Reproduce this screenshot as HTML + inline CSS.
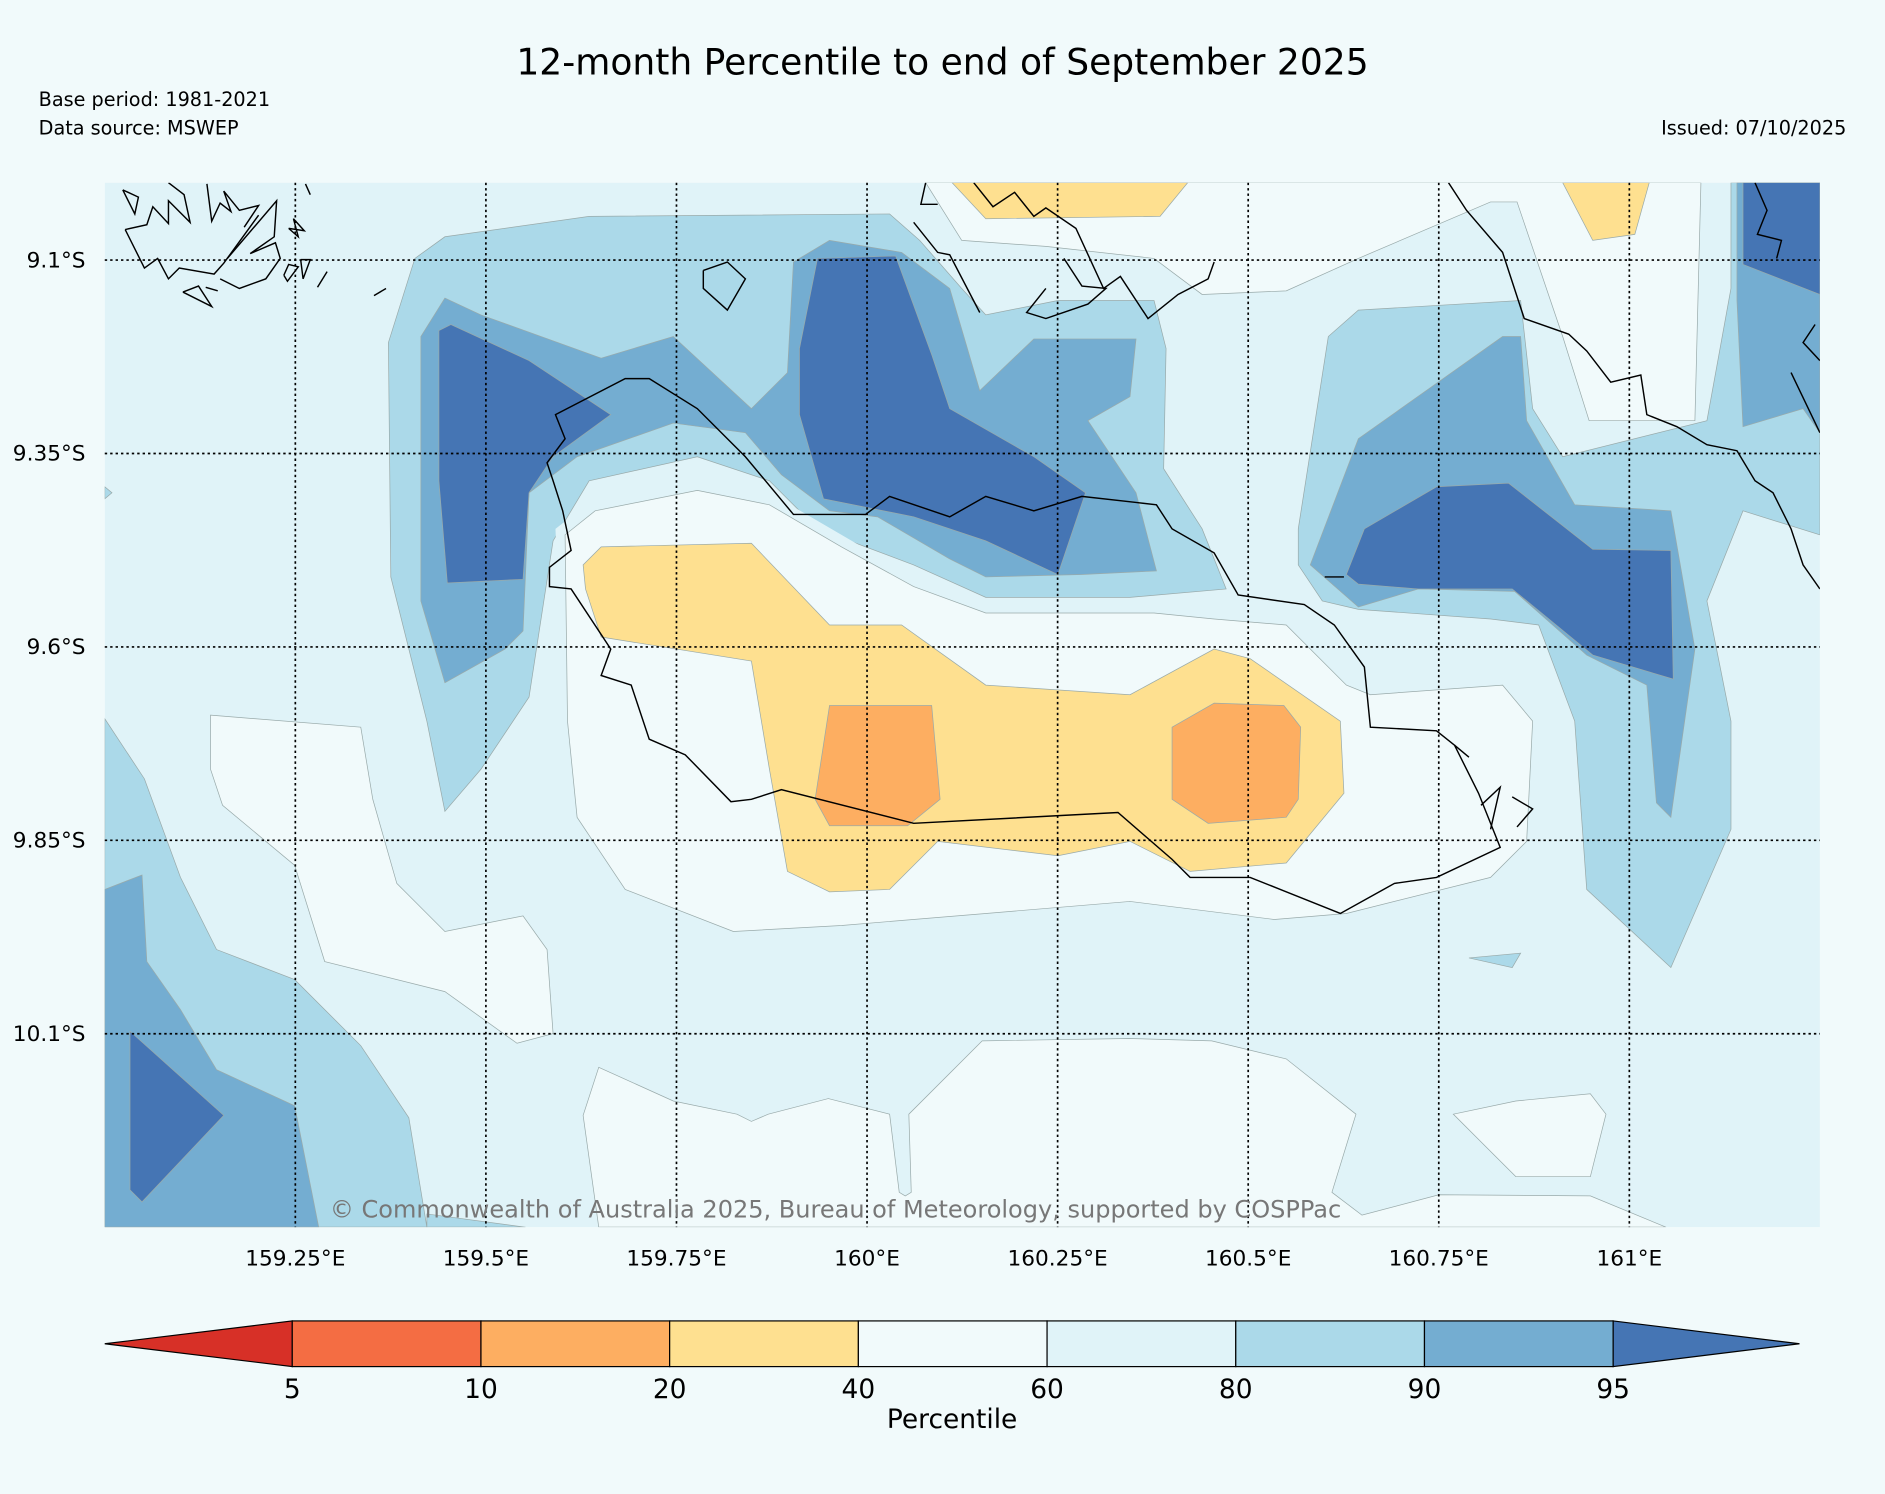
<!DOCTYPE html>
<html><head><meta charset="utf-8">
<style>
html,body{margin:0;padding:0;background:#f1fafb;}
svg{display:block;font-family:"DejaVu Sans","Liberation Sans",sans-serif;}
</style></head>
<body>
<svg id="chart" width="1885" height="1494" viewBox="0 0 1568 1243" xmlns="http://www.w3.org/2000/svg">
<rect x="0" y="0" width="1568" height="1243" fill="#f1fafb"/>
<text x="784" y="62" text-anchor="middle" font-size="30">12-month Percentile to end of September 2025</text>
<text x="32" y="88" font-size="16">Base period: 1981-2021</text>
<text x="32" y="112" font-size="16">Data source: MSWEP</text>
<text x="1536" y="112" text-anchor="end" font-size="16">Issued: 07/10/2025</text>
<defs><clipPath id="pc"><rect x="87" y="152" width="1427" height="869"/></clipPath></defs>
<g id="plot" clip-path="url(#pc)"></g>
<g id="axes"></g>
<g id="cbar"></g>
</svg>
<script>
// Axis definition: lon 159.0..161.25, lat 9.0S..10.35S
const lonTicks = [159.25,159.5,159.75,160,160.25,160.5,160.75,161];
const lonLabels = ["159.25°E","159.5°E","159.75°E","160°E","160.25°E","160.5°E","160.75°E","161°E"];
const latTicks = [9.1,9.35,9.6,9.85,10.1];
const latLabels = ["9.1°S","9.35°S","9.6°S","9.85°S","10.1°S"];
const cbarBounds = [5,10,20,40,60,80,90,95];
const cbarColors = ["#d73027","#f46d43","#fdae61","#fee090","#f1fafb","#e0f3f8","#abd9e9","#74add1","#4575b4"];
// contour polygons in projected plot units
const levelBg = "#e0f3f8";
const contours = [
 ["c80","#abd9e9",[[87,598],[120,648],[150,730],[180,790],[245,815],[300,870],[340,930],[355,1021],[87,1021]]],
 ["c80","#abd9e9",[[355,1010],[437,1021],[355,1021]]],
 ["c90","#74add1",[[87,740],[118,728],[122,800],[150,840],[180,890],[245,920],[265,1021],[87,1021]]],
 ["c95","#4575b4",[[108,858],[186,928],[118,1000],[108,990]]],
 ["c40","#f1fafb",[[175,595],[300,605],[310,665],[330,735],[370,775],[435,762],[455,790],[460,860],[430,868],[370,825],[270,800],[245,720],[185,670],[175,640]]],
 ["c40","#f1fafb",[[498,888],[560,916],[613,927],[625,933],[639,927],[689,914],[740,927],[748,992],[753,995],[758,992],[756,927],[817,866],[939,864],[1008,866],[1070,881],[1128,927],[1108,992],[1133,1011],[1197,994],[1323,995],[1386,1021],[498,1021],[485,928]]],
 ["c40","#f1fafb",[[1209,927],[1261,916],[1323,910],[1336,927],[1323,979],[1261,979]]],
 ["c40","#f1fafb",[[770,152],[1415,152],[1410,350],[1322,350],[1300,280],[1262,168],[1240,168],[1130,215],[1070,242],[1000,245],[960,215],[870,205],[800,200]]],
 ["c20","#fee090",[[792,152],[988,152],[965,180],[820,182]]],
 ["c20","#fee090",[[1300,152],[1372,152],[1360,195],[1325,200]]],
 ["c80","#abd9e9",[[323,285],[345,215],[370,197],[490,180],[740,178],[765,200],[800,240],[820,262],[880,250],[960,250],[970,290],[968,390],[1000,440],[1020,490],[940,497],[820,497],[760,470],[680,440],[640,400],[580,380],[490,400],[460,450],[440,580],[400,640],[370,675],[355,600],[325,480]]],
 ["c80","#abd9e9",[[1080,440],[1105,280],[1130,258],[1265,250],[1275,340],[1300,380],[1420,350],[1440,240],[1440,152],[1514,152],[1514,445],[1450,425],[1420,500],[1440,600],[1440,690],[1390,805],[1320,740],[1310,600],[1280,520],[1240,515],[1130,507],[1100,500],[1080,470]]],
 ["c90","#74add1",[[350,280],[370,248],[400,262],[500,298],[560,280],[625,340],[655,310],[660,218],[690,200],[750,210],[790,240],[815,325],[860,282],[945,282],[940,330],[905,350],[945,410],[962,475],[900,478],[820,480],[790,465],[730,430],[690,425],[650,395],[620,360],[560,352],[480,380],[440,410],[435,525],[420,540],[370,568],[350,500]]],
 ["c90","#74add1",[[1090,470],[1130,365],[1250,280],[1265,280],[1270,350],[1310,420],[1390,425],[1410,540],[1390,680],[1378,668],[1370,570],[1320,545],[1260,492],[1180,490],[1130,505]]],
 ["c90","#74add1",[[1445,152],[1514,152],[1514,360],[1500,340],[1450,355],[1445,250]]],
 ["c95","#4575b4",[[365,275],[375,270],[440,300],[508,345],[460,380],[440,410],[435,482],[372,485],[365,400]]],
 ["c95","#4575b4",[[665,290],[680,215],[745,213],[775,295],[790,340],[860,380],[903,410],[880,478],[820,450],[760,430],[685,415],[665,345]]],
 ["c95","#4575b4",[[1120,478],[1135,440],[1195,405],[1255,402],[1325,457],[1390,458],[1392,565],[1325,545],[1258,490],[1180,490],[1130,486]]],
 ["c95","#4575b4",[[1450,152],[1514,152],[1514,245],[1450,220]]],
 ["c60","#e0f3f8",[[462,440],[490,418],[580,395],[640,410],[700,445],[760,480],[820,500],[960,500],[1020,495],[1080,515],[1120,545],[1150,565],[1260,565],[1285,600],[1270,650],[470,650]]],
 ["c40","#f1fafb",[[470,445],[495,425],[580,408],[640,420],[700,455],[760,488],[820,510],[960,510],[1010,515],[1070,520],[1120,570],[1140,578],[1250,570],[1275,600],[1270,700],[1240,730],[1120,760],[1060,765],[940,750],[820,760],[700,770],[610,775],[520,740],[480,680],[472,600]]],
 ["c20","#fee090",[[485,470],[500,455],[625,452],[690,520],[750,520],[820,570],[940,578],[1010,540],[1040,548],[1115,600],[1118,660],[1070,718],[990,725],[940,700],[880,712],[780,700],[740,740],[690,742],[655,725],[640,640],[625,550],[500,530],[487,490]]],
 ["c10","#fdae61",[[690,587],[775,587],[782,665],[755,687],[690,687],[678,665]]],
 ["c10","#fdae61",[[975,605],[1010,585],[1068,587],[1082,605],[1080,665],[1070,680],[1005,685],[975,665]]],
 ["c80","#abd9e9",[[1222,797],[1265,793],[1258,805]]],
 ["c80","#abd9e9",[[87,405],[93,410],[87,415]]]
];
const coastMain = [[462,345],[520,315],[540,315],[580,340],[620,380],[660,428],[720,428],[740,413],[790,430],[820,413],[860,425],[900,413],[945,418],[962,420],[975,440],[1010,460],[1030,495],[1085,503],[1110,520],[1135,555],[1140,605],[1195,608],[1210,620],[1230,660],[1248,705],[1195,730],[1160,735],[1115,760],[1040,730],[990,730],[975,715],[930,676],[760,685],[650,657],[625,665],[608,667],[570,628],[540,615],[530,585],[525,570],[500,562],[508,540],[475,490],[457,488],[457,472],[475,458],[468,425],[460,400],[455,385],[470,365]];
const coastLines = [
 [[104,191],[122,187],[127,172],[140,186],[140,167],[158,185],[153,162],[140,152]],
 [[172,153],[176,184],[183,169],[192,176],[186,159],[199,175],[215,171],[203,189]],
 [[104,191],[120,223],[131,215],[140,232],[149,223],[178,228],[186,219],[215,179]],
 [[189,215],[230,167],[228,197],[208,211],[229,202],[233,215],[221,232],[199,240],[183,232]],
 [[102,158],[115,164],[112,178],[102,158]],[[152,243],[165,238],[176,255],[152,243]],[[171,239],[181,242]],
 [[240,190],[248,197],[244,182],[253,192],[240,190]],[[236,229],[240,220],[248,222],[239,234],[236,229]],
 [[250,216],[258,216],[252,232],[250,216]],[[264,239],[272,226]],[[311,246],[321,240]],[[254,153],[258,162]],
 [[585,225],[605,218],[620,232],[605,258],[585,240],[585,225]],
 [[770,152],[766,170],[780,170]],
 [[810,152],[826,172],[844,160],[860,180],[870,173],[895,190],[918,240],[932,230],[955,265],[980,245],[1005,232],[1010,218]],
 [[885,215],[900,238],[920,240],[905,253],[870,265],[854,260],[870,240]],
 [[760,185],[780,210],[790,212],[815,260]],
 [[1205,152],[1220,175],[1250,210],[1268,265],[1305,278],[1320,292],[1340,318],[1365,312],[1370,345],[1395,355],[1420,370],[1445,375],[1460,400],[1475,410],[1490,440],[1500,470],[1514,490]],
 [[1210,620],[1222,630]],[[1102,480],[1118,480]],[[1232,670],[1248,655],[1240,690]],[[1258,663],[1275,673],[1262,688]],
 [[1510,270],[1500,285],[1514,300]],[[1490,310],[1514,360]],
 [[1460,152],[1470,175],[1462,195],[1482,200],[1478,215]]
];
const NS="http://www.w3.org/2000/svg";
const plot=document.getElementById('plot'), axes=document.getElementById('axes'), cb=document.getElementById('cbar');
const X0=87,X1=1514,Y0=152,Y1=1021;
function xLon(v){return X0+(v-159.0)/2.25*(X1-X0);}
function yLat(v){return Y0+(v-9.0)/1.35*(Y1-Y0);}
function mk(t,a,p){const e=document.createElementNS(NS,t);for(const k in a)e.setAttribute(k,a[k]);(p||plot).appendChild(e);return e;}
const bg=mk('rect',{x:X0,y:Y0,width:X1-X0,height:Y1-Y0,fill:levelBg});


contours.forEach(c=>{
 const p=mk('polygon',{points:c[2].map(q=>q.join(',')).join(' '),fill:c[1],stroke:c[0]==='c60'?'none':'#9aa',"stroke-width":0.6});
 
 
});
const cm=mk('polygon',{points:coastMain.map(q=>q.join(',')).join(' '),fill:'none',stroke:'#000',"stroke-width":1.2});


coastLines.forEach(l=>{
 const e=mk('polyline',{points:l.map(q=>q.join(',')).join(' '),fill:'none',stroke:'#000',"stroke-width":1.2});
 
 
});
lonTicks.forEach((v,i)=>{
 const x=xLon(v);
 const g=mk('line',{x1:x,x2:x,y1:Y0,y2:Y1,stroke:'#000',"stroke-width":1.4,"stroke-dasharray":"2,2.5"},axes);
 
 
 const t=mk('text',{x:x,y:1053,"text-anchor":"middle","font-size":18},axes);t.textContent=lonLabels[i];
 
 
});
latTicks.forEach((v,i)=>{
 const y=yLat(v);
 const g=mk('line',{x1:X0,x2:X1,y1:y,y2:y,stroke:'#000',"stroke-width":1.4,"stroke-dasharray":"2,2.5"},axes);
 
 
 const t=mk('text',{x:71,y:y+6,"text-anchor":"end","font-size":18},axes);t.textContent=latLabels[i];
 
 
});
const cp=mk('text',{x:695,y:1013,"text-anchor":"middle","font-size":20,fill:'#777'},axes);
cp.textContent='© Commonwealth of Australia 2025, Bureau of Meteorology, supported by COSPPac';


// colorbar
const CB0=243,CBW=157,CY=1099,CH=38;
function cbx(i){return CB0+i*CBW;}
const lt=mk('polygon',{points:`87,${CY+CH/2} ${cbx(0)},${CY} ${cbx(0)},${CY+CH}`,fill:cbarColors[0],stroke:'#000'},cb);


for(let i=0;i<cbarBounds.length-1;i++){
 const r=mk('rect',{x:cbx(i),y:CY,width:CBW,height:CH,fill:cbarColors[i+1],stroke:'#000',"stroke-width":1},cb);
 
 
}
const last=cbx(cbarBounds.length-1);
const rt=mk('polygon',{points:`${last},${CY} 1497,${CY+CH/2} ${last},${CY+CH}`,fill:cbarColors[8],stroke:'#000'},cb);


cbarBounds.forEach((v,i)=>{
 const t=mk('text',{x:cbx(i),y:1163,"text-anchor":"middle","font-size":22},cb);t.textContent=v;
 
 
});
const ct=mk('text',{x:792,y:1188,"text-anchor":"middle","font-size":22},cb);ct.textContent='Percentile';


</script>
</body></html>
